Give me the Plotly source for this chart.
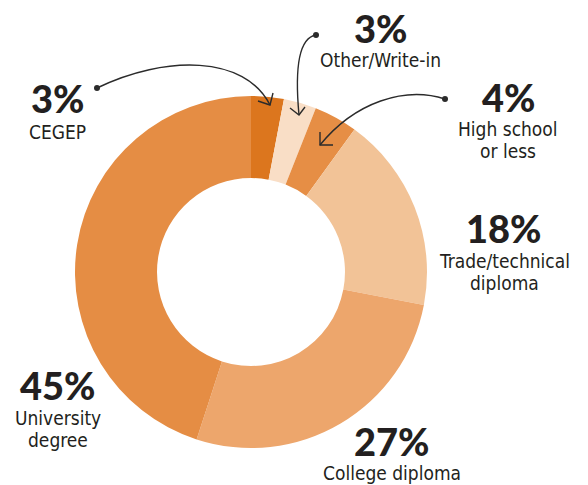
import plotly.graph_objects as go

# Highest level of education completed (share of respondents)
categories = ["CEGEP", "Other/Write-in", "High school or less",
              "Trade/technical diploma", "College diploma", "University degree"]
values = [3, 3, 4, 18, 27, 45]
colors = ["#DC761E", "#F9DEC6", "#E68E45", "#F2C397", "#EDA66C", "#E58D44"]

# Label lines shown next to each slice
label_lines = {
    "CEGEP": ["CEGEP"],
    "Other/Write-in": ["Other/Write-in"],
    "High school or less": ["High school", "or less"],
    "Trade/technical diploma": ["Trade/technical", "diploma"],
    "College diploma": ["College diploma"],
    "University degree": ["University", "degree"],
}

W, H = 588, 485
TEXT = "#231F20"
PCT_FONT = dict(family="Lato, Roboto, sans-serif", size=38, color=TEXT, weight=900)
LBL_FONT = dict(family="DejaVu Sans Condensed, sans-serif", size=19, color=TEXT)


def fx(x):
    return x / W


def fy(y):
    return 1 - y / H


# ring centre and outer radius in pixels
cx, cy, r = 251, 272, 176

fig = go.Figure(go.Pie(
    labels=categories,
    values=values,
    sort=False,
    direction="clockwise",
    rotation=0,
    hole=0.534,
    marker=dict(colors=colors, line=dict(width=0)),
    textinfo="none",
    hoverinfo="label+percent",
    domain=dict(x=[fx(cx - r), fx(cx + r)], y=[fy(cy + r), fy(cy - r)]),
    showlegend=False,
))

# anchor of each label block: (centre x, percent y, first text line y)
label_pos = {
    "CEGEP": (57, 98, 132),
    "Other/Write-in": (380, 28, 60),
    "High school or less": (508, 97, 129),
    "Trade/technical diploma": (504, 228, 261),
    "College diploma": (392, 441, 473),
    "University degree": (58, 385, 418),
}
line_gap = 22

annotations = []
for cat, val in zip(categories, values):
    x, yp, yl = label_pos[cat]
    annotations.append(dict(
        x=fx(x), y=fy(yp), xref="paper", yref="paper",
        text=f"{val}%", showarrow=False, font=PCT_FONT,
        xanchor="center", yanchor="middle"))
    for i, line in enumerate(label_lines[cat]):
        annotations.append(dict(
            x=fx(x), y=fy(yl + i * line_gap), xref="paper", yref="paper",
            text=line, showarrow=False, font=LBL_FONT,
            xanchor="center", yanchor="middle"))


def path(points_cmd):
    out = []
    for item in points_cmd:
        if isinstance(item, str):
            out.append(item)
        else:
            out.append(f"{fx(item[0]):.5f},{fy(item[1]):.5f}")
    return " ".join(out)


LINE = dict(color="#2B2B2B", width=1.4)
shapes = []

# curved leader lines: (start dot, bezier controls, tip, arrowhead ends)
leaders = [
    ((97, 88), (165, 55), (245, 55), (270, 105), (258, 101), (273, 93)),
    ((316, 35), (298, 38), (295, 72), (299, 115), (290, 108), (305, 107)),
    ((445, 99), (405, 86), (355, 102), (320, 145), (333, 145), (320, 132)),
]
for start, c1, c2, tip, h1, h2 in leaders:
    shapes.append(dict(type="path", xref="paper", yref="paper",
                       path=path(["M", start, "C", c1, c2, tip]), line=LINE))
    shapes.append(dict(type="path", xref="paper", yref="paper",
                       path=path(["M", h1, "L", tip, "L", h2]), line=LINE))
    rdot = 3
    shapes.append(dict(type="circle", xref="paper", yref="paper",
                       x0=fx(start[0] - rdot), x1=fx(start[0] + rdot),
                       y0=fy(start[1] + rdot), y1=fy(start[1] - rdot),
                       fillcolor="#2B2B2B", line=dict(width=0)))

fig.update_layout(
    width=W, height=H,
    margin=dict(l=0, r=0, t=0, b=0),
    paper_bgcolor="white",
    plot_bgcolor="white",
    annotations=annotations,
    shapes=shapes,
)

fig.write_html("out.html")
